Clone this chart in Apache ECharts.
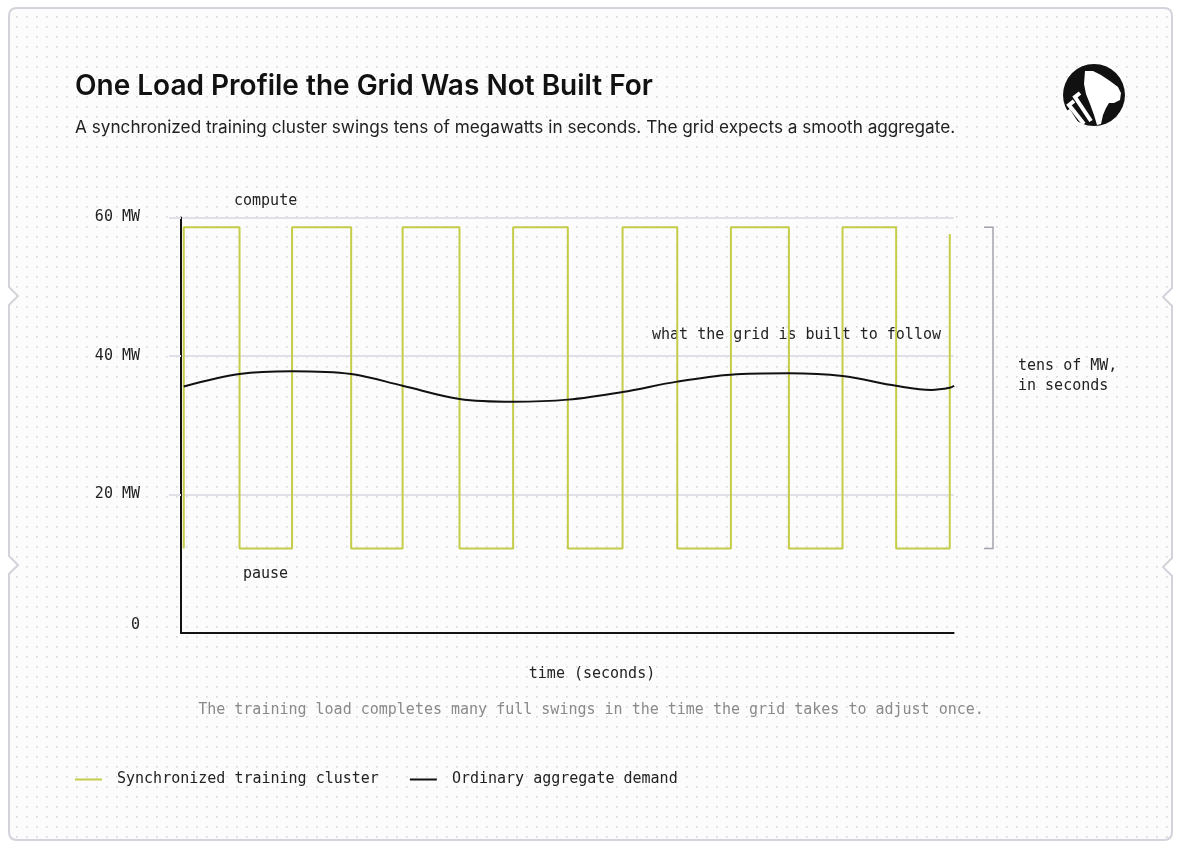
<!DOCTYPE html>
<html>
<head>
<meta charset="utf-8">
<script src="https://cdn.jsdelivr.net/npm/echarts@6/dist/echarts.min.js"></script>
<style>
  html, body { margin: 0; padding: 0; background: #ffffff; }
  #wrap { position: relative; width: 1184px; height: 850px; }
  #bg { position: absolute; left: 0; top: 0; }
  #chart { position: absolute; left: 0; top: 0; width: 1184px; height: 850px; }
</style>
</head>
<body>
<div id="wrap">
  <svg id="bg" width="1184" height="850" xmlns="http://www.w3.org/2000/svg">
    <defs>
      <pattern id="dots" x="2" y="2" width="10" height="10" patternUnits="userSpaceOnUse">
        <rect width="10" height="10" fill="#fcfcfc"></rect>
        <rect x="4" y="4" width="1.6" height="1.6" fill="#d6d6d6"></rect>
      </pattern>
    </defs>
    <path d="M 17 8 L 1164 8 Q 1172 8 1172 16 L 1172 288 L 1163 297 L 1172 306 L 1172 558 L 1163 567 L 1172 576 L 1172 832 Q 1172 840 1164 840 L 17 840 Q 9 840 9 832 L 9 574 L 18 565 L 9 556 L 9 305 L 18 296 L 9 287 L 9 16 Q 9 8 17 8 Z"
          fill="url(#dots)" stroke="#d3d3db" stroke-width="2"></path>
  </svg>
  <div id="chart"></div>
</div>
<script>
// ---- data ----
const seriesNames = ['Synchronized training cluster', 'Ordinary aggregate demand'];
// square-wave edges (seconds)
const riseTimes = [0, 9.9, 20.0, 30.1, 40.1, 50.0, 60.2, 70.0];
const fallTimes = [5.1, 15.3, 25.2, 35.1, 45.1, 55.3, 65.1];
const computeMW = 58.6;   // compute phase level
const pauseMW = 12.2;     // pause phase level
const finalMW = 57.6;     // last sample, mid-rise
// smooth aggregate demand
const demandTimes = [0, 5.1, 9.9, 15.3, 20.0, 25.2, 30.1, 35.1, 40.1, 45.1, 50.0, 55.3, 60.2, 65.1, 68.3, 70.0, 70.4];
const demandMW    = [35.6, 37.4, 37.8, 37.4, 35.7, 33.8, 33.4, 33.7, 34.8, 36.3, 37.3, 37.5, 37.1, 35.7, 35.1, 35.4, 35.7];
// y ticks
const yTicks = [0, 20, 40, 60];

// ---- build series data ----
const clusterData = [];
for (let i = 0; i < riseTimes.length; i++) {
  const r = riseTimes[i];
  clusterData.push([r, pauseMW]);
  if (i === riseTimes.length - 1) { clusterData.push([r, finalMW]); break; }
  clusterData.push([r, computeMW]);
  const f = fallTimes[i];
  clusterData.push([f, computeMW]);
  clusterData.push([f, pauseMW]);
}
const demandData = demandTimes.map((t, i) => [t, demandMW[i]]);

const MONO = '"DejaVu Sans Mono", "Liberation Mono", monospace';
const SANS = 'Inter, "Noto Sans", sans-serif';
const GREEN = '#c4cc48';

const chart = echarts.init(document.getElementById('chart'), null, { renderer: 'canvas' });

const option = {
  backgroundColor: 'transparent',
  animation: false,
  grid: { left: 181, top: 217.5, bottom: 217, width: 772.6, containLabel: false },
  xAxis: {
    type: 'value', min: -0.25, max: 70.35,
    axisLine: { show: true, onZero: false, lineStyle: { color: '#111', width: 2 } },
    axisTick: { show: false }, axisLabel: { show: false }, splitLine: { show: false }
  },
  yAxis: {
    type: 'value', min: yTicks[0], max: yTicks[yTicks.length - 1], interval: 20,
    axisLine: { show: true, onZero: false, lineStyle: { color: '#111', width: 2 } },
    axisTick: { show: true, length: 12, customValues: yTicks.slice(1), lineStyle: { color: '#e0e0e6', width: 2 } },
    axisLabel: {
      margin: 41, color: '#222', fontFamily: MONO, fontSize: 15,
      customValues: yTicks,
      verticalAlignMinLabel: 'bottom',
      formatter: v => v === 0 ? '0' : v + ' MW'
    },
    splitLine: { show: true, lineStyle: { color: '#e0e0e6', width: 2 } }
  },
  legend: {
    left: 75, top: 772, padding: 0,
    icon: 'rect', itemWidth: 27, itemHeight: 2, itemGap: 31,
    textStyle: { fontFamily: MONO, fontSize: 15, color: '#222', padding: [0, 0, 0, 10] },
    data: seriesNames
  },
  series: [
    {
      name: seriesNames[0], type: 'line', data: clusterData, showSymbol: false,
      lineStyle: { color: GREEN, width: 2 }, itemStyle: { color: GREEN }, z: 2
    },
    {
      name: seriesNames[1], type: 'line', data: demandData, showSymbol: false, smooth: 0.35,
      lineStyle: { color: '#111', width: 2 }, itemStyle: { color: '#111' }, z: 3
    }
  ]
};
chart.setOption(option);

// bracket positions derived from the data scale
const pTop = chart.convertToPixel({ gridIndex: 0 }, [70, computeMW]);
const pBot = chart.convertToPixel({ gridIndex: 0 }, [70, pauseMW]);
const bx = 993;

const stripe = (pts) => ({ type: 'polyline', shape: { points: pts }, style: { stroke: '#fff', lineWidth: 4, fill: null, lineCap: 'butt', lineJoin: 'miter' } });

chart.setOption({
  graphic: [
    { type: 'text', x: 75, y: 87, style: { text: 'One Load Profile the Grid Was Not Built For', font: '600 28px ' + SANS, fill: '#111', verticalAlign: 'middle' } },
    { type: 'text', x: 75, y: 128, style: { text: 'A synchronized training cluster swings tens of megawatts in seconds. The grid expects a smooth aggregate.', font: '400 17.2px ' + SANS, fill: '#222', verticalAlign: 'middle' } },
    { type: 'text', x: 234, y: 201, style: { text: 'compute', font: '15px ' + MONO, fill: '#222', verticalAlign: 'middle' } },
    { type: 'text', x: 243, y: 574, style: { text: 'pause', font: '15px ' + MONO, fill: '#222', verticalAlign: 'middle' } },
    { type: 'text', x: 652, y: 335, style: { text: 'what the grid is built to follow', font: '15px ' + MONO, fill: '#222', verticalAlign: 'middle' } },
    { type: 'text', x: 1018, y: 356, style: { text: 'tens of MW,\nin seconds', font: '15px ' + MONO, fill: '#222', lineHeight: 20 } },
    { type: 'text', x: 592, y: 674, style: { text: 'time (seconds)', font: '15px ' + MONO, fill: '#222', align: 'center', verticalAlign: 'middle' } },
    { type: 'text', x: 591, y: 710, style: { text: 'The training load completes many full swings in the time the grid takes to adjust once.', font: '15px ' + MONO, fill: '#8a8a8a', align: 'center', verticalAlign: 'middle' } },
    { type: 'polyline', shape: { points: [[bx - 9, pTop[1]], [bx, pTop[1]], [bx, pBot[1]], [bx - 9, pBot[1]]] }, style: { stroke: '#a3a3ab', lineWidth: 1.5, fill: null } },
    // logo
    { type: 'circle', shape: { cx: 1094, cy: 95, r: 31 }, style: { fill: '#111' } },
    { type: 'polygon', shape: { points: [[1085, 71], [1093, 71], [1101, 75], [1110, 81], [1118, 87], [1121, 93], [1120, 100], [1114, 103], [1109, 103], [1106, 108], [1103, 115], [1101, 124], [1097, 125], [1094, 115], [1090, 104], [1086, 94], [1084, 84]] }, style: { fill: '#fff' } },
    stripe([[1080, 93], [1075, 97], [1091, 121]]),
    stripe([[1074, 101], [1069, 105], [1084, 124]]),
    stripe([[1068, 110], [1077, 124]])
  ]
});
</script>
</body>
</html>
